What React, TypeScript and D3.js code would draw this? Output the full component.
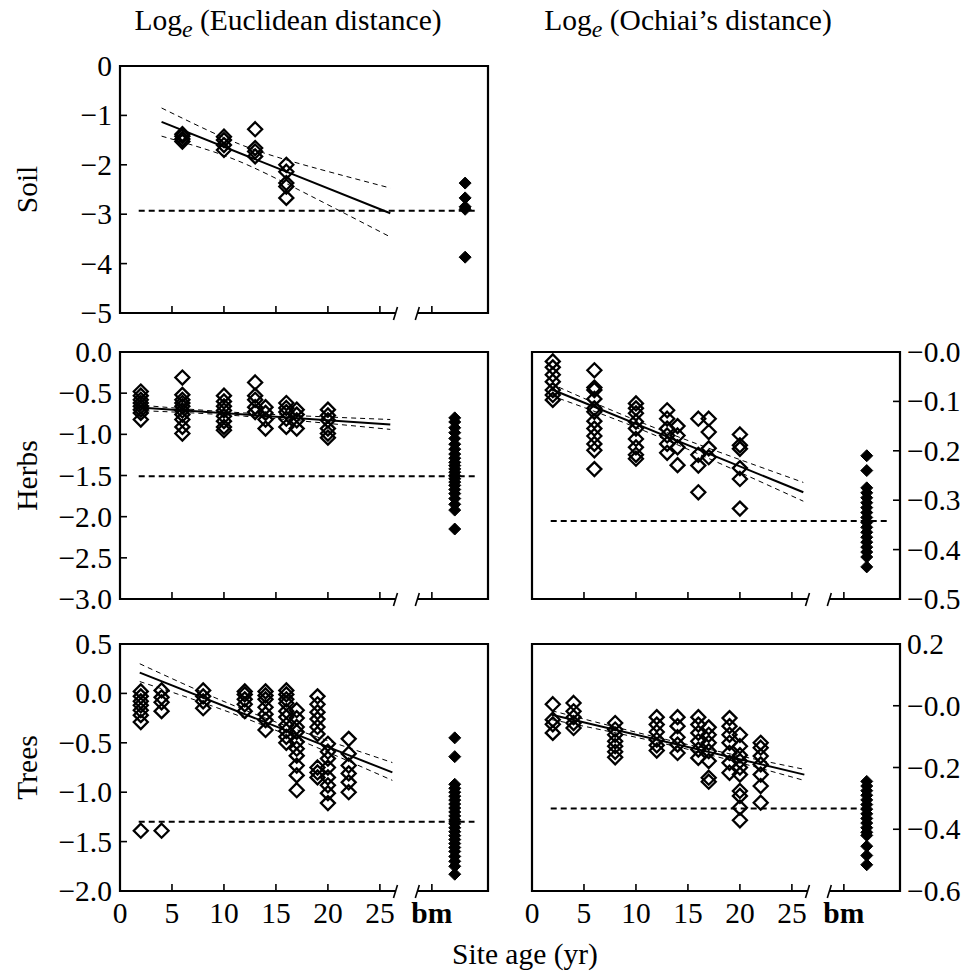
import React from 'react';
import * as d3 from 'd3';

const FONT = "'Liberation Serif', 'DejaVu Serif', 'Times New Roman', serif";

// ---------- data ----------
const soilAges = [6, 10, 13, 16];
const soilValues = [
  [-1.38, -1.42, -1.48, -1.53],
  [-1.43, -1.5, -1.6, -1.7],
  [-1.28, -1.66, -1.73, -1.83],
  [-2.0, -2.14, -2.37, -2.44, -2.67],
];
const soilBm = [-2.37, -2.67, -2.85, -2.9, -3.87];
const soilBmMean = -2.93;
const soilFit = [[4, -1.13], [26, -2.98]];
const soilCiUpper = [[4, -0.85], [10, -1.45], [16, -1.9], [26, -2.47]];
const soilCiLower = [[4, -1.42], [10, -1.81], [16, -2.38], [26, -3.46]];

const herbsAges = [2, 6, 10, 13, 14, 16, 17, 20];
const herbsEucValues = [
  [-0.48, -0.53, -0.58, -0.62, -0.66, -0.7, -0.74, -0.82],
  [-0.31, -0.52, -0.58, -0.62, -0.66, -0.71, -0.76, -0.82, -0.91, -0.99],
  [-0.53, -0.6, -0.66, -0.71, -0.78, -0.84, -0.91, -0.95],
  [-0.37, -0.53, -0.58, -0.67, -0.73],
  [-0.67, -0.74, -0.82, -0.93],
  [-0.62, -0.68, -0.73, -0.81, -0.91],
  [-0.7, -0.76, -0.83, -0.93],
  [-0.7, -0.77, -0.83, -0.93, -0.99, -1.04],
];
const herbsEucBm = [-0.8, -0.85, -0.92, -0.98, -1.05, -1.12, -1.18, -1.24, -1.29, -1.34, -1.38, -1.42, -1.46, -1.5, -1.54, -1.58, -1.62, -1.67, -1.72, -1.78, -1.85, -1.92, -2.15];
const herbsEucBmMean = -1.51;
const herbsEucFit = [[1.5, -0.67], [26, -0.88]];
const herbsEucCiUpper = [[1.5, -0.64], [12, -0.74], [26, -0.82]];
const herbsEucCiLower = [[1.5, -0.71], [12, -0.78], [26, -0.94]];

const herbsOchValues = [
  [-0.019, -0.031, -0.046, -0.06, -0.077, -0.087, -0.097],
  [-0.037, -0.072, -0.077, -0.095, -0.114, -0.121, -0.14, -0.155, -0.17, -0.186, -0.199, -0.237],
  [-0.104, -0.114, -0.124, -0.141, -0.155, -0.176, -0.193, -0.208, -0.216],
  [-0.118, -0.135, -0.155, -0.169, -0.186, -0.204],
  [-0.15, -0.169, -0.193, -0.229],
  [-0.135, -0.208, -0.23, -0.284],
  [-0.135, -0.162, -0.195, -0.213],
  [-0.167, -0.189, -0.196, -0.235, -0.257, -0.317],
];
const herbsOchBm = [-0.21, -0.24, -0.275, -0.285, -0.295, -0.305, -0.315, -0.325, -0.335, -0.345, -0.355, -0.365, -0.375, -0.385, -0.395, -0.405, -0.415, -0.435];
const herbsOchBmMean = -0.342;
const herbsOchFit = [[1.8, -0.075], [26.1, -0.284]];
const herbsOchCiUpper = [[1.8, -0.064], [12, -0.155], [26.1, -0.264]];
const herbsOchCiLower = [[1.8, -0.088], [12, -0.17], [26.1, -0.302]];

const treesAges = [2, 4, 8, 12, 14, 16, 17, 19, 20, 22];
const treesEucValues = [
  [0.02, -0.03, -0.08, -0.12, -0.17, -0.22, -0.29, -1.39],
  [0.03, -0.04, -0.09, -0.18, -1.39],
  [0.03, -0.03, -0.08, -0.15],
  [0.02, -0.01, -0.06, -0.11, -0.18],
  [0.02, -0.02, -0.06, -0.14, -0.21, -0.27, -0.37],
  [0.03, -0.01, -0.06, -0.1, -0.18, -0.24, -0.32, -0.38, -0.44, -0.5],
  [-0.17, -0.25, -0.34, -0.39, -0.49, -0.56, -0.63, -0.73, -0.83, -0.98],
  [-0.03, -0.11, -0.19, -0.26, -0.34, -0.41, -0.75, -0.8, -0.85],
  [-0.51, -0.59, -0.66, -0.75, -0.85, -0.93, -1.01, -1.11],
  [-0.46, -0.61, -0.73, -0.81, -0.9, -1.0],
];
const treesEucBm = [-0.45, -0.64, -0.92, -0.96, -1.0, -1.04, -1.08, -1.12, -1.16, -1.2, -1.24, -1.28, -1.32, -1.36, -1.4, -1.44, -1.48, -1.52, -1.56, -1.6, -1.65, -1.7, -1.75, -1.83];
const treesEucBmMean = -1.3;
const treesEucFit = [[1.9, 0.21], [26.2, -0.8]];
const treesEucCiUpper = [[1.9, 0.3], [13, -0.21], [26.2, -0.7]];
const treesEucCiLower = [[1.9, 0.12], [13, -0.29], [26.2, -0.88]];

const treesOchValues = [
  [0.005, -0.045, -0.06, -0.088],
  [0.009, -0.018, -0.037, -0.056, -0.072],
  [-0.056, -0.077, -0.094, -0.115, -0.131, -0.149, -0.167],
  [-0.037, -0.061, -0.085, -0.11, -0.128, -0.145],
  [-0.037, -0.066, -0.102, -0.126, -0.153],
  [-0.037, -0.061, -0.088, -0.115, -0.142, -0.169],
  [-0.07, -0.094, -0.12, -0.147, -0.179, -0.233, -0.246],
  [-0.04, -0.066, -0.094, -0.12, -0.153, -0.185, -0.217],
  [-0.094, -0.131, -0.16, -0.179, -0.2, -0.223, -0.276, -0.292, -0.33, -0.371],
  [-0.12, -0.136, -0.163, -0.19, -0.223, -0.26, -0.314],
];
const treesOchBm = [-0.245, -0.26, -0.275, -0.29, -0.305, -0.32, -0.335, -0.35, -0.365, -0.38, -0.395, -0.41, -0.42, -0.455, -0.485, -0.515];
const treesOchBmMean = -0.333;
const treesOchFit = [[1.9, -0.029], [26.2, -0.223]];
const treesOchCiUpper = [[1.9, -0.016], [14, -0.118], [26.2, -0.206]];
const treesOchCiLower = [[1.9, -0.045], [14, -0.133], [26.2, -0.242]];

const xTicks = [0, 5, 10, 15, 20, 25];
const xTickLabels = ['0', '5', '10', '15', '20', '25'];
const bmLabel = 'bm';

const soilTicks = [0, -1, -2, -3, -4, -5];
const soilTickLabels = ['0', '\u22121', '\u22122', '\u22123', '\u22124', '\u22125'];
const herbsEucTicks = [0, -0.5, -1, -1.5, -2, -2.5, -3];
const herbsEucTickLabels = ['0.0', '\u22120.5', '\u22121.0', '\u22121.5', '\u22122.0', '\u22122.5', '\u22123.0'];
const herbsOchTicks = [0, -0.1, -0.2, -0.3, -0.4, -0.5];
const herbsOchTickLabels = ['\u22120.0', '\u22120.1', '\u22120.2', '\u22120.3', '\u22120.4', '\u22120.5'];
const treesEucTicks = [0.5, 0, -0.5, -1, -1.5, -2];
const treesEucTickLabels = ['0.5', '0.0', '\u22120.5', '\u22121.0', '\u22121.5', '\u22122.0'];
const treesOchTicks = [0.2, 0, -0.2, -0.4, -0.6];
const treesOchTickLabels = ['0.2', '\u22120.0', '\u22120.2', '\u22120.4', '\u22120.6'];

const rowLabels = ['Soil', 'Herbs', 'Trees'];
const colTitles = ['(Euclidean distance)', '(Ochiai\u2019s distance)'];
const xAxisTitle = 'Site age (yr)';

// ---------- layout ----------
const X_MAX = 35.4;
const BREAK_A = 26.5;
const BREAK_B = 28.6;
const BM_TICK = 30;
const FS = 29.5;
const TFS = 29.5;
const COL_X = [[120, 488], [532, 900]];
const ROW_Y = [[66, 313], [352, 599], [644, 891]];
const textStyle = { fontFamily: FONT };

type PanelProps = {
  col: number; row: number;
  domain: [number, number];
  ticks: number[]; tickLabels: string[];
  ages: number[]; values: number[][];
  bm: number[]; bmPos: number; bmMean: number; bmMeanEnd: number;
  fit: number[][]; ciU: number[][]; ciL: number[][];
  showX: boolean;
};

const diamond = (r: number) => `M0,${-r}L${r},0L0,${r}L${-r},0Z`;

function Panel(p: PanelProps) {
  const [x0, x1] = COL_X[p.col];
  const [y0, y1] = ROW_Y[p.row];
  const x = d3.scaleLinear().domain([0, X_MAX]).range([x0, x1]);
  const y = d3.scaleLinear().domain(p.domain).range([y1, y0]);
  const right = p.col === 1;
  const line = d3.line<number[]>().x(d => x(d[0])).y(d => y(d[1]));
  const curve = d3.line<number[]>().x(d => x(d[0])).y(d => y(d[1])).curve(d3.curveNatural);
  const bA = x(BREAK_A), bB = x(BREAK_B);
  const pts: [number, number][] = [];
  p.ages.forEach((a, i) => p.values[i].forEach(v => pts.push([a, v])));
  return (
    <g>
      <path
        d={`M${bA},${y1}L${x0},${y1}L${x0},${y0}L${x1},${y0}L${x1},${y1}L${bB},${y1}`}
        fill="none" stroke="#000" strokeWidth={2.2}
      />
      {[bA, bB].map((bx, i) => (
        <line key={i} x1={bx - 2} y1={y1 + 7} x2={bx + 2} y2={y1 - 6} stroke="#000" strokeWidth={1.6} />
      ))}
      {xTicks.filter(t => t > 0).concat([BM_TICK]).map(t => (
        <line key={t} x1={x(t)} x2={x(t)} y1={y1} y2={y1 - 7} stroke="#000" strokeWidth={1.6} />
      ))}
      {p.showX && xTicks.map((t, i) => (
        <text key={t} x={x(t)} y={y1 + 32} textAnchor="middle" fontSize={FS} style={textStyle}>{xTickLabels[i]}</text>
      ))}
      {p.showX && (
        <text x={x(BM_TICK)} y={y1 + 32} textAnchor="middle" fontSize={FS} fontWeight="bold" style={textStyle}>{bmLabel}</text>
      )}
      {p.ticks.map((t, i) => (
        <g key={t}>
          <line x1={right ? x1 : x0} x2={right ? x1 - 7 : x0 + 7} y1={y(t)} y2={y(t)} stroke="#000" strokeWidth={1.6} />
          <text
            x={right ? x1 + 7 : x0 - 8} y={y(t) + 10}
            textAnchor={right ? 'start' : 'end'} fontSize={FS} style={textStyle}
          >{p.tickLabels[i]}</text>
        </g>
      ))}
      <line x1={x(1.8)} x2={x(p.bmMeanEnd)} y1={y(p.bmMean)} y2={y(p.bmMean)} stroke="#000" strokeWidth={2} strokeDasharray="6,4" />
      <path d={curve(p.ciU) || ''} fill="none" stroke="#000" strokeWidth={1} strokeDasharray="5,4" />
      <path d={curve(p.ciL) || ''} fill="none" stroke="#000" strokeWidth={1} strokeDasharray="5,4" />
      <path d={line(p.fit) || ''} fill="none" stroke="#000" strokeWidth={2} />
      {pts.map((d, i) => (
        <path key={i} d={diamond(7)} transform={`translate(${x(d[0])},${y(d[1])})`} fill="none" stroke="#000" strokeWidth={2.3} />
      ))}
      {p.bm.map((v, i) => (
        <path key={'b' + i} d={diamond(6)} transform={`translate(${x(p.bmPos)},${y(v)})`} fill="#000" stroke="#000" strokeWidth={1} />
      ))}
    </g>
  );
}

export default function App() {
  return (
    <svg width={966} height={972} style={{ position: 'absolute', left: 0, top: 0, background: '#fff' }}>
      <rect width={966} height={972} fill="#fff" />
      {[288, 688].map((cx, i) => (
        <text key={i} x={cx} y={30} textAnchor="middle" fontSize={TFS} style={textStyle}>
          Log<tspan fontStyle="italic" fontSize={24} dy={7}>e</tspan><tspan dy={-7}>{' ' + colTitles[i]}</tspan>
        </text>
      ))}
      {rowLabels.map((l, i) => {
        const cy = (ROW_Y[i][0] + ROW_Y[i][1]) / 2;
        return (
          <text key={l} transform={`translate(37,${cy}) rotate(-90)`} textAnchor="middle" fontSize={TFS} style={textStyle}>{l}</text>
        );
      })}
      <text x={525} y={964} textAnchor="middle" fontSize={TFS} style={textStyle}>{xAxisTitle}</text>

      <Panel col={0} row={0} domain={[-5, 0]} ticks={soilTicks} tickLabels={soilTickLabels}
        ages={soilAges} values={soilValues} bm={soilBm} bmPos={33.2} bmMean={soilBmMean} bmMeanEnd={34.2}
        fit={soilFit} ciU={soilCiUpper} ciL={soilCiLower} showX={false} />
      <Panel col={0} row={1} domain={[-3, 0]} ticks={herbsEucTicks} tickLabels={herbsEucTickLabels}
        ages={herbsAges} values={herbsEucValues} bm={herbsEucBm} bmPos={32.2} bmMean={herbsEucBmMean} bmMeanEnd={34.2}
        fit={herbsEucFit} ciU={herbsEucCiUpper} ciL={herbsEucCiLower} showX={false} />
      <Panel col={1} row={1} domain={[-0.5, 0]} ticks={herbsOchTicks} tickLabels={herbsOchTickLabels}
        ages={herbsAges} values={herbsOchValues} bm={herbsOchBm} bmPos={32.2} bmMean={herbsOchBmMean} bmMeanEnd={34.3}
        fit={herbsOchFit} ciU={herbsOchCiUpper} ciL={herbsOchCiLower} showX={false} />
      <Panel col={0} row={2} domain={[-2, 0.5]} ticks={treesEucTicks} tickLabels={treesEucTickLabels}
        ages={treesAges} values={treesEucValues} bm={treesEucBm} bmPos={32.2} bmMean={treesEucBmMean} bmMeanEnd={34.1}
        fit={treesEucFit} ciU={treesEucCiUpper} ciL={treesEucCiLower} showX={true} />
      <Panel col={1} row={2} domain={[-0.6, 0.2]} ticks={treesOchTicks} tickLabels={treesOchTickLabels}
        ages={treesAges} values={treesOchValues} bm={treesOchBm} bmPos={32.2} bmMean={treesOchBmMean} bmMeanEnd={32.6}
        fit={treesOchFit} ciU={treesOchCiUpper} ciL={treesOchCiLower} showX={true} />
    </svg>
  );
}
